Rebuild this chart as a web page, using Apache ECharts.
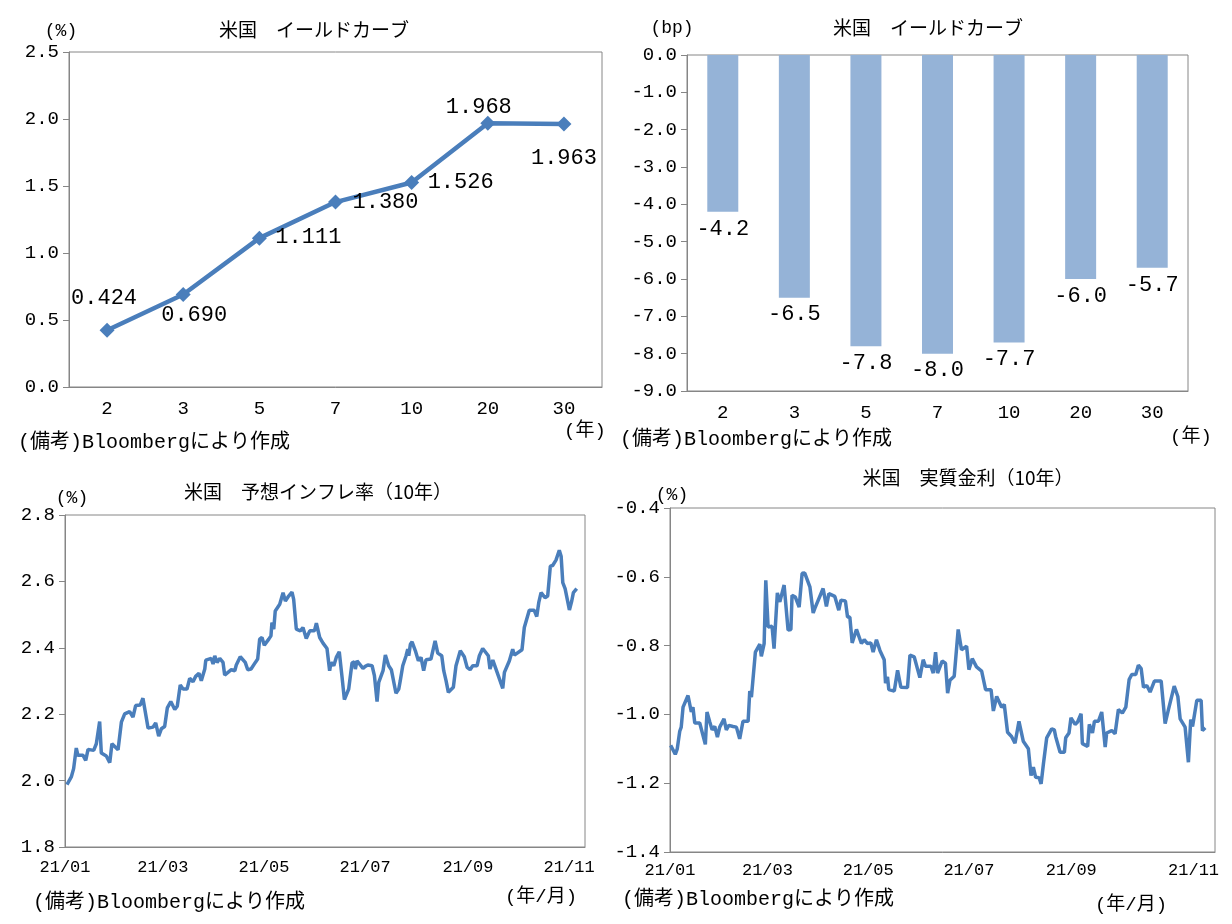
<!DOCTYPE html>
<html>
<head>
<meta charset="utf-8">
<script src="https://cdn.jsdelivr.net/npm/echarts@6/dist/echarts.min.js"></script>
<style>
  html, body { margin: 0; padding: 0; background: #fff; }
  #chart { width: 1232px; height: 924px; }
</style>
</head>
<body>
<div id="chart"></div>
<script>
// 米国債 年限
const yieldTerms = ['2', '3', '5', '7', '10', '20', '30']
// 利回り水準 (%)
const yieldLevels = [0.424, 0.690, 1.111, 1.380, 1.526, 1.968, 1.963]
// 前週差 (bp)
const yieldChanges = [-4.2, -6.5, -7.8, -8.0, -7.7, -6.0, -5.7]

// 時系列の横軸: 2021/1/1 からの経過日数
const monthTickDays = [0, 59, 120, 181, 243, 304]
const monthTickLabels = ['21/01', '21/03', '21/05', '21/07', '21/09', '21/11']
// 実質金利の図は 21/11 のラベルが右に寄っている
const realTickDays = [0, 59, 120, 181, 243, 317]

// [経過日数, %]
const breakeven10y = [
  [1.2, 1.988], [3.8, 2.011], [5.2, 2.036], [6.8, 2.098], [7.8, 2.076], [10.9, 2.076], [12.5, 2.061],
  [13.9, 2.094], [17.3, 2.091], [18.9, 2.111], [20.9, 2.178], [21.9, 2.083], [24.9, 2.074], [27.0, 2.054],
  [28.3, 2.111], [32.0, 2.093], [34.0, 2.176], [36.0, 2.201], [39.0, 2.208], [41.0, 2.191], [42.6, 2.226],
  [45.4, 2.228], [47.0, 2.248], [50.1, 2.158], [53.1, 2.161], [54.7, 2.174], [56.5, 2.134], [58.1, 2.156],
  [60.1, 2.163], [61.7, 2.219], [63.8, 2.238], [66.2, 2.214], [67.7, 2.224], [69.5, 2.288], [71.2, 2.276],
  [73.6, 2.276], [75.2, 2.308], [77.2, 2.298], [78.8, 2.314], [80.8, 2.323], [82.2, 2.301], [84.3, 2.336],
  [84.9, 2.363], [88.2, 2.368], [89.3, 2.351], [90.3, 2.376], [91.7, 2.356], [93.3, 2.368], [95.3, 2.356],
  [96.3, 2.318], [98.3, 2.326], [100.3, 2.334], [102.4, 2.331], [103.3, 2.348], [105.7, 2.373], [108.7, 2.356],
  [110.2, 2.334], [112.2, 2.336], [114.8, 2.356], [116.2, 2.366], [117.4, 2.426], [118.8, 2.431], [120.2, 2.408],
  [122.9, 2.426], [124.2, 2.436], [124.8, 2.476], [125.9, 2.456], [126.8, 2.511], [129.5, 2.531], [131.5, 2.566],
  [132.9, 2.541], [134.9, 2.556], [136.9, 2.568], [137.9, 2.546], [139.5, 2.456], [141.9, 2.451], [143.5, 2.461],
  [145.5, 2.428], [147.6, 2.451], [150.4, 2.451], [151.6, 2.474], [153.6, 2.431], [155.6, 2.414], [158.0, 2.398],
  [159.6, 2.331], [160.4, 2.356], [162.1, 2.346], [163.6, 2.371], [165.4, 2.388], [167.1, 2.311], [168.5, 2.244],
  [171.1, 2.276], [173.1, 2.354], [174.5, 2.358], [175.1, 2.336], [176.1, 2.361], [179.7, 2.338], [181.1, 2.344],
  [182.6, 2.348], [185.2, 2.346], [186.6, 2.316], [188.2, 2.238], [189.2, 2.296], [191.8, 2.331], [193.2, 2.378],
  [195.2, 2.346], [196.8, 2.334], [199.6, 2.263], [201.3, 2.276], [202.2, 2.301], [203.7, 2.346], [205.7, 2.376],
  [206.7, 2.396], [207.3, 2.376], [208.3, 2.411], [209.3, 2.418], [211.3, 2.391], [213.1, 2.361], [214.7, 2.371],
  [216.3, 2.331], [217.7, 2.364], [220.7, 2.366], [223.2, 2.421], [224.8, 2.384], [227.2, 2.376], [228.4, 2.331],
  [229.8, 2.301], [231.2, 2.266], [234.2, 2.281], [235.8, 2.346], [236.9, 2.351], [238.4, 2.391], [240.8, 2.373],
  [242.5, 2.341], [244.3, 2.334], [245.9, 2.346], [248.5, 2.346], [249.9, 2.376], [251.9, 2.398], [255.3, 2.376],
  [256.3, 2.336], [258.0, 2.363], [261.3, 2.316], [264.0, 2.278], [265.0, 2.326], [268.0, 2.361], [270.0, 2.396],
  [271.0, 2.378], [275.6, 2.394], [277.0, 2.461], [278.0, 2.461], [280.0, 2.513], [283.0, 2.513], [284.5, 2.494],
  [285.7, 2.536], [287.1, 2.566], [289.5, 2.551], [291.1, 2.556], [292.7, 2.646], [294.1, 2.648], [296.1, 2.664],
  [298.1, 2.694], [299.2, 2.676], [300.2, 2.596], [301.6, 2.578], [304.2, 2.514], [305.6, 2.541], [306.6, 2.566],
  [308.6, 2.578]
]

// [経過日数, %]
const realYield10y = [
  [0.4, -1.090], [3.2, -1.116], [4.4, -1.100], [5.9, -1.049], [6.8, -1.037], [7.9, -0.979], [10.9, -0.945],
  [12.9, -0.993], [13.9, -0.979], [15.0, -1.025], [18.0, -1.025], [21.4, -1.087], [22.4, -0.993], [24.1, -1.022],
  [25.5, -1.045], [27.1, -1.035], [28.7, -1.066], [30.1, -1.037], [32.7, -1.013], [34.1, -1.045], [35.6, -1.032],
  [38.2, -1.035], [40.2, -1.037], [42.2, -1.071], [44.2, -1.020], [47.3, -1.020], [48.3, -0.932], [49.3, -0.950],
  [51.7, -0.819], [54.4, -0.796], [55.3, -0.831], [57.0, -0.794], [58.0, -0.610], [59.4, -0.746], [61.8, -0.744],
  [63.0, -0.809], [65.0, -0.647], [66.5, -0.673], [69.1, -0.624], [71.5, -0.755], [73.2, -0.753], [73.9, -0.654],
  [75.9, -0.659], [78.2, -0.688], [80.0, -0.590], [81.6, -0.589], [84.7, -0.629], [86.7, -0.705], [87.7, -0.692],
  [92.7, -0.634], [94.7, -0.686], [96.2, -0.649], [99.8, -0.657], [102.2, -0.697], [103.5, -0.668], [106.2, -0.670],
  [107.5, -0.717], [108.9, -0.717], [110.3, -0.792], [112.9, -0.753], [115.9, -0.794], [117.6, -0.783], [119.6, -0.794],
  [121.6, -0.792], [123.0, -0.819], [125.0, -0.783], [127.1, -0.814], [129.7, -0.841], [130.5, -0.909], [131.7, -0.891],
  [132.5, -0.928], [135.8, -0.932], [137.8, -0.872], [139.8, -0.921], [143.8, -0.922], [145.3, -0.828], [147.9, -0.833],
  [151.3, -0.893], [153.3, -0.841], [154.7, -0.860], [158.0, -0.860], [159.4, -0.880], [160.8, -0.819], [162.0, -0.880],
  [164.8, -0.845], [166.8, -0.851], [168.1, -0.938], [169.5, -0.901], [172.1, -0.889], [174.5, -0.753], [176.5, -0.812],
  [179.6, -0.802], [181.0, -0.870], [183.0, -0.838], [185.6, -0.862], [188.7, -0.874], [191.1, -0.928], [194.4, -0.928],
  [195.8, -0.990], [197.8, -0.948], [200.8, -0.979], [202.4, -0.971], [204.4, -1.052], [206.8, -1.064], [208.9, -1.084],
  [211.3, -1.020], [213.9, -1.078], [217.0, -1.100], [218.6, -1.178], [220.0, -1.153], [221.4, -1.183], [223.5, -1.184],
  [224.7, -1.202], [226.1, -1.144], [228.1, -1.068], [231.1, -1.042], [232.7, -1.045], [233.5, -1.064], [234.7, -1.061],
  [236.2, -1.110], [238.8, -1.110], [239.6, -1.068], [241.6, -1.054], [242.8, -1.010], [245.3, -1.029], [246.8, -1.022],
  [248.9, -0.998], [249.7, -1.085], [252.9, -1.093], [253.9, -1.029], [255.8, -1.054], [257.0, -1.020], [259.4, -1.020],
  [261.4, -0.993], [263.5, -1.095], [264.4, -1.054], [267.5, -1.047], [269.5, -1.056], [271.5, -0.986], [273.9, -0.996],
  [276.0, -0.979], [278.0, -0.899], [279.6, -0.884], [282.0, -0.884], [283.6, -0.857], [285.3, -0.867], [286.7, -0.921],
  [288.7, -0.916], [290.7, -0.935], [293.3, -0.903], [297.4, -0.903], [299.8, -1.027], [301.8, -0.986], [305.3, -0.918],
  [307.5, -0.948], [308.9, -1.013], [311.9, -1.037], [313.9, -1.139], [315.3, -1.015], [316.4, -1.035], [319.0, -0.959],
  [320.0, -0.961], [321.6, -0.959], [322.4, -1.047], [324.1, -1.039]
]

const jpFont = '"Noto Sans CJK JP", sans-serif'
const numFont = '"Liberation Mono", "DejaVu Sans Mono", monospace'
// 半角は等幅、全角は CJK フォントで
const noteFont = '"Liberation Mono", "Noto Sans CJK JP", sans-serif'
const axisGrey = '#868686'
const lineBlue = '#4A7EBB'
const barBlue = '#95B3D7'

// 利回り曲線のラベル位置 (点からのずれ)
const levelLabelOffsets = [[-3, -32], [11, 21], [49, -1], [50, 0], [49, 0], [-9, -16], [0, 34]]

const gridBox = {show: true, borderColor: axisGrey, borderWidth: 1, backgroundColor: '#fff'}

const yAxisBase = (gridIndex, min, max, interval) => ({
  type: 'value',
  gridIndex,
  min,
  max,
  interval,
  axisLine: {show: true, lineStyle: {color: axisGrey}},
  axisTick: {show: true, inside: false, length: 6, lineStyle: {color: axisGrey}},
  splitLine: {show: false},
  axisLabel: {
    color: '#000',
    fontFamily: numFont,
    fontSize: 19,
    margin: 10,
    formatter: (v) => v.toFixed(1)
  }
})

const timeXAxis = (gridIndex, max, tickDays, margin) => ({
  type: 'value',
  gridIndex,
  min: 0,
  max,
  axisLine: {show: true, onZero: false, lineStyle: {color: axisGrey}},
  axisTick: {show: false},
  splitLine: {show: false},
  axisLabel: {
    customValues: tickDays,
    color: '#000',
    fontFamily: numFont,
    fontSize: 17,
    margin,
    formatter: (v) => monthTickLabels[tickDays.indexOf(v)] || ''
  }
})

const text = (x, y, str, opt = {}) => ({
  type: 'text',
  x,
  y,
  silent: true,
  style: Object.assign({
    text: str,
    fill: '#000',
    font: '19px ' + noteFont,
    textAlign: 'center',
    textVerticalAlign: 'middle'
  }, opt)
})

const chart = echarts.init(document.getElementById('chart'), null, {renderer: 'canvas'})

const option = {
  animation: false,
  backgroundColor: '#fff',
  grid: [
    Object.assign({left: 69, top: 52, width: 533, height: 335}, gridBox),
    Object.assign({left: 687, top: 55, width: 501, height: 336}, gridBox),
    Object.assign({left: 65, top: 515, width: 520, height: 332}, gridBox),
    Object.assign({left: 670, top: 508, width: 545, height: 344}, gridBox)
  ],
  xAxis: [
    {
      type: 'category',
      gridIndex: 0,
      data: yieldTerms,
      axisLine: {show: true, lineStyle: {color: axisGrey}},
      axisTick: {show: false},
      axisLabel: {color: '#000', fontFamily: numFont, fontSize: 19, margin: 12}
    },
    {
      type: 'category',
      gridIndex: 1,
      data: yieldTerms,
      axisLine: {show: true, onZero: false, lineStyle: {color: axisGrey}},
      axisTick: {show: false},
      axisLabel: {color: '#000', fontFamily: numFont, fontSize: 19, margin: 12}
    },
    timeXAxis(2, 313.6, monthTickDays, 12),
    timeXAxis(3, 330, realTickDays, 10)
  ],
  yAxis: [
    yAxisBase(0, 0, 2.5, 0.5),
    yAxisBase(1, -9, 0, 1),
    yAxisBase(2, 1.8, 2.8, 0.2),
    yAxisBase(3, -1.4, -0.4, 0.2)
  ],
  series: [
    {
      name: '利回り',
      type: 'line',
      xAxisIndex: 0,
      yAxisIndex: 0,
      symbol: 'diamond',
      symbolSize: 15,
      lineStyle: {color: lineBlue, width: 4.5},
      itemStyle: {color: lineBlue},
      data: yieldLevels.map((v, i) => ({
        value: v,
        label: {
          show: true,
          position: 'inside',
          offset: levelLabelOffsets[i],
          color: '#000',
          fontFamily: numFont,
          fontSize: 22,
          formatter: (p) => p.value.toFixed(3)
        }
      }))
    },
    {
      name: '前週差',
      type: 'bar',
      xAxisIndex: 1,
      yAxisIndex: 1,
      barWidth: 31,
      itemStyle: {color: barBlue},
      label: {
        show: true,
        position: 'bottom',
        distance: 6,
        color: '#000',
        fontFamily: numFont,
        fontSize: 22,
        formatter: (p) => p.value.toFixed(1)
      },
      data: yieldChanges
    },
    {
      name: '予想インフレ率',
      type: 'line',
      xAxisIndex: 2,
      yAxisIndex: 2,
      showSymbol: false,
      lineStyle: {color: lineBlue, width: 3.5},
      data: breakeven10y
    },
    {
      name: '実質金利',
      type: 'line',
      xAxisIndex: 3,
      yAxisIndex: 3,
      showSymbol: false,
      lineStyle: {color: lineBlue, width: 3.5},
      data: realYield10y
    }
  ],
  graphic: [
    text(61, 31, '(%)', {font: '18px ' + noteFont}),
    text(314, 30, '米国　イールドカーブ', {font: '19px ' + jpFont}),
    text(585, 431, '(年)'),
    text(18, 443, '(備考)Bloombergにより作成', {textAlign: 'left', font: '20px ' + noteFont}),

    text(672, 28, '(bp)', {font: '18px ' + noteFont}),
    text(928, 28, '米国　イールドカーブ', {font: '19px ' + jpFont}),
    text(1191, 437, '(年)'),
    text(620, 440, '(備考)Bloombergにより作成', {textAlign: 'left', font: '20px ' + noteFont}),

    text(72, 498, '(%)', {font: '18px ' + noteFont}),
    text(318, 492, '米国　予想インフレ率（10年）', {font: '19px ' + jpFont}),
    text(541, 897, '(年/月)'),
    text(33, 903, '(備考)Bloombergにより作成', {textAlign: 'left', font: '20px ' + noteFont}),

    text(672, 495, '(%)', {font: '18px ' + noteFont}),
    text(968, 478, '米国　実質金利（10年）', {font: '19px ' + jpFont}),
    text(1131, 905, '(年/月)'),
    text(622, 900, '(備考)Bloombergにより作成', {textAlign: 'left', font: '20px ' + noteFont})
  ]
}

chart.setOption(option)
</script>
</body>
</html>
